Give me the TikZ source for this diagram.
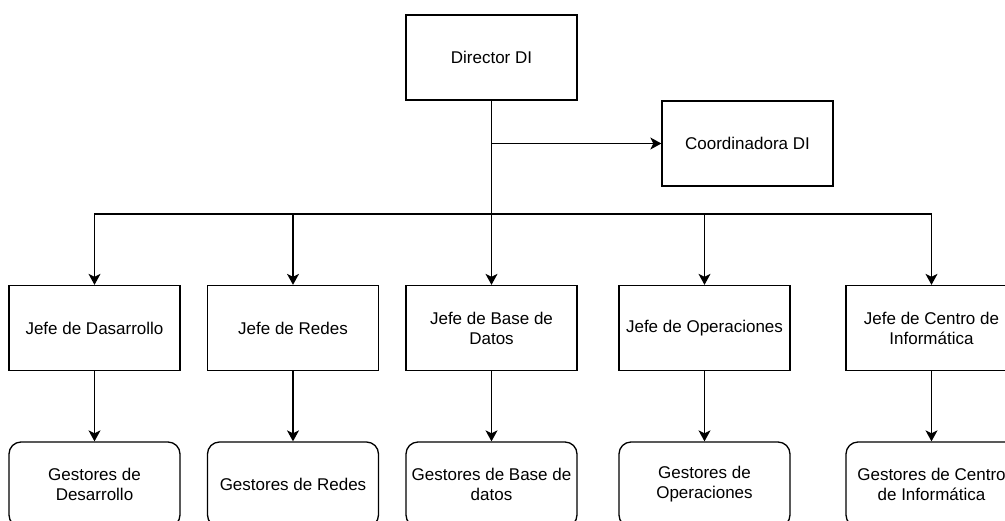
\documentclass[tikz,border=0pt]{standalone}
\usepackage{fontspec}
\setmainfont{Liberation Sans}
\usetikzlibrary{arrows.meta}
\begin{document}
\begin{tikzpicture}[x=1pt,y=-1pt,
  box/.style={draw,line width=1.3pt,minimum width=171pt,minimum height=85pt,inner sep=2pt,align=center,font=\fontsize{17}{20}\selectfont},
  rbox/.style={box,rounded corners=12pt},
  conn/.style={line width=1.3pt,-{Stealth[length=11pt,width=12pt,inset=3pt]}},
  line/.style={line width=1.3pt}]
\useasboundingbox (0,0) rectangle (1005,520);
\clip (0,0) rectangle (1005,520);
\node[box] (dir) at (491.5,57.5) {Director DI};
\node[box] (coo) at (747.5,143.5) {Coordinadora DI};
\node[box] (j1) at (94.5,328) {Jefe de Dasarrollo};
\node[box] (j2) at (293,328) {Jefe de Redes};
\node[box] (j3) at (491.5,328) {Jefe de Base de\\Datos};
\node[box] (j4) at (704.5,328) {Jefe de Operaciones};
\node[box] (j5) at (931.5,328) {Jefe de Centro de\\Informática};
\node[rbox] (g1) at (94.5,484.5) {Gestores de\\Desarrollo};
\node[rbox] (g2) at (293,484.5) {Gestores de Redes};
\node[rbox] (g3) at (491.5,484.5) {Gestores de Base de\\datos};
\node[rbox] (g4) at (704.5,484.5) {Gestores de\\Operaciones};
\node[rbox] (g5) at (931.5,484.5) {Gestores de Centro\\de Informática};
\coordinate (br) at (dir.south |- coo.west);
\coordinate (bus) at (491.5,214);
\draw[conn] (dir.south) -- (j3.north);
\draw[conn] (br) -- (coo.west);
\draw[conn] (bus) -| (j1.north);
\draw[conn] (bus) -| (j2.north);
\draw[conn] (bus) -| (j4.north);
\draw[conn] (bus) -| (j5.north);
\draw[conn] (j1.south) -- (g1.north);
\draw[conn] (j2.south) -- (g2.north);
\draw[conn] (j3.south) -- (g3.north);
\draw[conn] (j4.south) -- (g4.north);
\draw[conn] (j5.south) -- (g5.north);
\end{tikzpicture}
\end{document}
